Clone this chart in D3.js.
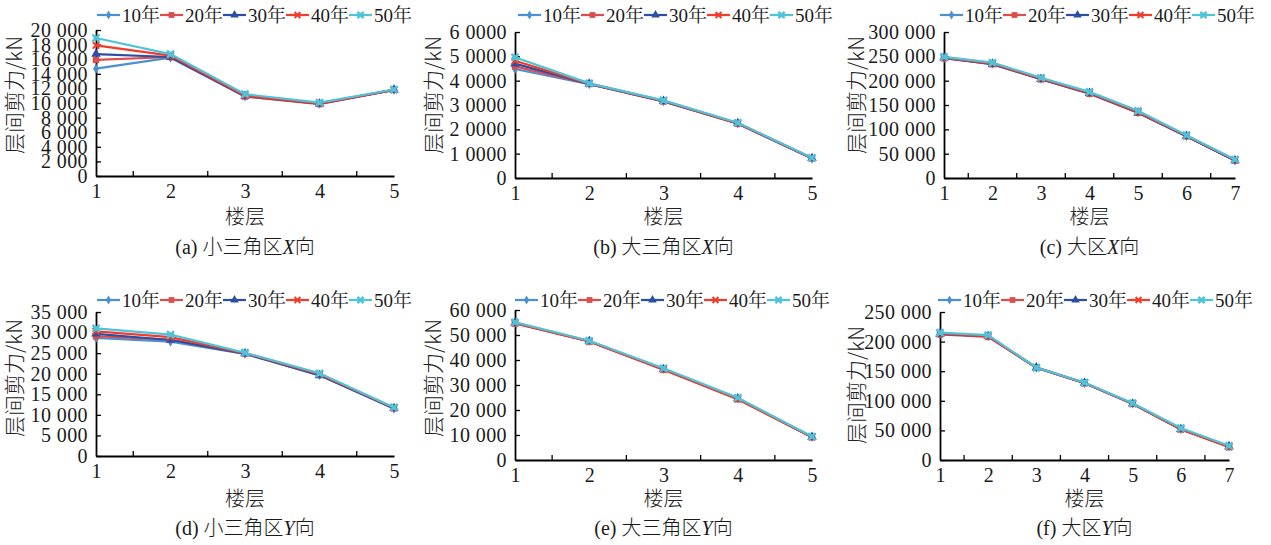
<!DOCTYPE html>
<html><head><meta charset="utf-8">
<script src="https://cdn.jsdelivr.net/npm/d3@7"></script>
<style>body{margin:0;background:#fff}svg{display:block}</style>
</head><body><svg id="c" width="1271" height="545"></svg>
<script>
const seriesNames = ["10年","20年","30年","40年","50年"];
const seriesColors = ["#4a90d2","#dc4e4c","#2b4fa4","#f23c2a","#4fc3d9"];
const seriesMarkers = ["diamond","square","triangle","cross","star"];

const floors5 = [1,2,3,4,5];
const floors7 = [1,2,3,4,5,6,7];

// (a) 小三角区X向
const aTicks = [0,2000,4000,6000,8000,10000,12000,14000,16000,18000,20000];
const aLabels = ["0","2 000","4 000","6 000","8 000","10 000","12 000","14 000","16 000","18 000","20 000"];
const a10 = [14700,16200,10900,9900,11800];
const a20 = [15900,16300,10900,9850,11800];
const a30 = [16700,16300,10950,9900,11800];
const a40 = [17900,16500,11000,9950,11800];
const a50 = [18900,16700,11200,10050,11850];

// (b) 大三角区X向
const bTicks = [0,10000,20000,30000,40000,50000,60000];
const bLabels = ["0","1 0000","2 0000","3 0000","4 0000","5 0000","6 0000"];
const b10 = [44800,38600,31500,22400,8000];
const b20 = [45900,38700,31500,22300,8100];
const b30 = [47000,38700,31600,22500,8100];
const b40 = [48200,38800,31700,22500,8200];
const b50 = [49600,38900,31900,22700,8300];

// (c) 大区X向
const cTicks = [0,50000,100000,150000,200000,250000,300000];
const cLabels = ["0","50 000","100 000","150 000","200 000","250 000","300 000"];
const c10 = [247000,235000,204000,175000,135000,86000,36000];
const c20 = [246000,234000,203000,173000,134000,86000,36000];
const c30 = [247000,234000,203000,174000,134000,86000,36000];
const c40 = [248000,235000,204000,175000,135000,87000,37000];
const c50 = [249000,237000,206000,177000,138000,88000,38000];

// (d) 小三角区Y向
const dTicks = [0,5000,10000,15000,20000,25000,30000,35000];
const dLabels = ["0","5 000","10 000","15 000","20 000","25 000","30 000","35 000"];
const d10 = [28700,27800,24800,19700,11500];
const d20 = [29100,28300,24900,19800,11600];
const d30 = [29700,28200,24900,19600,11600];
const d40 = [30300,28900,25000,19900,11700];
const d50 = [31000,29500,25100,20100,11800];

// (e) 大三角区Y向
const eTicks = [0,10000,20000,30000,40000,50000,60000];
const eLabels = ["0","10 000","20 000","30 000","40 000","50 000","60 000"];
const e10 = [55000,47600,36400,24700,9200];
const e20 = [54600,47400,36100,24300,9100];
const e30 = [54800,47500,36300,24600,9200];
const e40 = [54700,47400,36200,24400,9200];
const e50 = [55100,47700,36700,24900,9400];

// (f) 大区Y向
const fTicks = [0,50000,100000,150000,200000,250000];
const fLabels = ["0","50 000","100 000","150 000","200 000","250 000"];
const f10 = [213000,209000,156000,130000,95000,52000,23000];
const f20 = [212000,208000,156000,130000,95000,52000,22000];
const f30 = [213000,209000,156000,130000,95000,52000,23000];
const f40 = [214000,209000,156000,130000,95000,52000,22000];
const f50 = [215000,211000,156000,131000,96000,54000,24000];

const panels = [
  {tag:"(a)", name:"小三角区", dir:"X", floors:floors5, ticks:aTicks, labels:aLabels, data:[a10,a20,a30,a40,a50],
   x0:96, x1:394, yTop:30, yBot:176, legX:97, legY:15, titleX:13, titleY:95, xtY:217, capY:247},
  {tag:"(b)", name:"大三角区", dir:"X", floors:floors5, ticks:bTicks, labels:bLabels, data:[b10,b20,b30,b40,b50],
   x0:515, x1:812, yTop:32, yBot:178, legX:518, legY:15, titleX:432, titleY:95, xtY:217, capY:247},
  {tag:"(c)", name:"大区", dir:"X", floors:floors7, ticks:cTicks, labels:cLabels, data:[c10,c20,c30,c40,c50],
   x0:944, x1:1235, yTop:32, yBot:178, legX:940, legY:15, titleX:855, titleY:95, xtY:217, capY:247},
  {tag:"(d)", name:"小三角区", dir:"Y", floors:floors5, ticks:dTicks, labels:dLabels, data:[d10,d20,d30,d40,d50],
   x0:96, x1:394, yTop:312, yBot:456, legX:97, legY:300, titleX:13, titleY:378, xtY:499, capY:528},
  {tag:"(e)", name:"大三角区", dir:"Y", floors:floors5, ticks:eTicks, labels:eLabels, data:[e10,e20,e30,e40,e50],
   x0:515, x1:812, yTop:310, yBot:460, legX:515, legY:300, titleX:432, titleY:378, xtY:499, capY:528},
  {tag:"(f)", name:"大区", dir:"Y", floors:floors7, ticks:fTicks, labels:fLabels, data:[f10,f20,f30,f40,f50],
   x0:940, x1:1229, yTop:312, yBot:460, legX:938, legY:300, titleX:855, titleY:385, xtY:499, capY:528}
];

const svg = d3.select("#c");
svg.append("rect").attr("width",1271).attr("height",545).attr("fill","#fff");
const serif = "'Liberation Serif','Times New Roman','Noto Serif CJK SC','Noto Sans CJK SC',serif";
const cjk = "'Noto Sans CJK SC','Noto Sans',sans-serif";

function marker(g, type, x, y, color, s){
  s = s || 1;
  if(type==="diamond"){
    g.append("path").attr("d",d3.symbol(d3.symbolDiamond, 30*s)()).attr("transform",`translate(${x},${y})`).attr("fill",color);
  } else if(type==="square"){
    g.append("path").attr("d",d3.symbol(d3.symbolSquare, 42*s)()).attr("transform",`translate(${x},${y})`).attr("fill",color);
  } else if(type==="triangle"){
    g.append("path").attr("d",d3.symbol(d3.symbolTriangle, 40*s)()).attr("transform",`translate(${x},${y})`).attr("fill",color);
  } else if(type==="cross"){
    g.append("path").attr("d",d3.symbol(d3.symbolX, 30*s)()).attr("transform",`translate(${x},${y})`).attr("fill","none").attr("stroke",color).attr("stroke-width",2);
  } else {
    g.append("path").attr("d",d3.symbol(d3.symbolX, 34*s)()).attr("transform",`translate(${x},${y})`).attr("fill","none").attr("stroke",color).attr("stroke-width",2.4);
    g.append("path").attr("d",d3.symbol(d3.symbolSquare, 22*s)()).attr("transform",`translate(${x},${y})`).attr("fill",color);
  }
}

panels.forEach(p => {
  const g = svg.append("g");
  const x = d3.scaleLinear().domain([p.floors[0], p.floors[p.floors.length-1]]).range([p.x0, p.x1]);
  const y = d3.scaleLinear().domain([0, p.ticks[p.ticks.length-1]]).range([p.yBot, p.yTop]);

  // y axis
  const yAxis = d3.axisLeft(y).tickValues(p.ticks).tickFormat((d,i)=>p.labels[i]).tickSizeInner(-5).tickSizeOuter(0).tickPadding(8);
  const ya = g.append("g").attr("transform",`translate(${p.x0},0)`).call(yAxis);
  ya.select(".domain").attr("stroke","#000").attr("stroke-width",1.8);
  ya.selectAll(".tick line").attr("stroke","#000").attr("stroke-width",1.3);
  ya.selectAll(".tick text").attr("font-family",serif).attr("font-size",20).attr("letter-spacing",0.4).attr("fill","#1a1a1a");

  // x axis: labels at floors, inner ticks at midpoints
  const xAxis = d3.axisBottom(x).tickValues(p.floors).tickFormat(d3.format("d")).tickSize(0).tickPadding(8);
  const xa = g.append("g").attr("transform",`translate(0,${p.yBot})`).call(xAxis);
  xa.select(".domain").attr("stroke","#000").attr("stroke-width",1.8);
  xa.selectAll(".tick text").attr("font-family",serif).attr("font-size",20).attr("fill","#1a1a1a");
  const mids = p.floors.slice(0,-1).map(f=>f+0.5);
  g.selectAll(null).data(mids).enter().append("line")
    .attr("x1",d=>x(d)).attr("x2",d=>x(d)).attr("y1",p.yBot).attr("y2",p.yBot-5)
    .attr("stroke","#000").attr("stroke-width",1.3);

  // lines
  const line = d3.line().x((d,i)=>x(p.floors[i])).y(d=>y(d));
  p.data.forEach((vals, si) => {
    g.append("path").datum(vals).attr("d",line).attr("fill","none")
      .attr("stroke",seriesColors[si]).attr("stroke-width",2.2);
    vals.forEach((v,i)=>marker(g, seriesMarkers[si], x(p.floors[i]), y(v), seriesColors[si]));
  });

  // legend
  seriesNames.forEach((n, si) => {
    const lx = p.legX + si*63;
    g.append("line").attr("x1",lx).attr("x2",lx+23).attr("y1",p.legY).attr("y2",p.legY)
      .attr("stroke",seriesColors[si]).attr("stroke-width",2.2);
    marker(g, seriesMarkers[si], lx+11.5, p.legY, seriesColors[si], 0.8);
    g.append("text").attr("x",lx+25).attr("y",p.legY+7).attr("font-family",serif)
      .attr("font-size",19).attr("fill","#1a1a1a").text(n);
  });

  // y title
  g.append("text").attr("transform",`translate(${p.titleX+9},${p.titleY}) rotate(-90)`)
    .attr("text-anchor","middle").attr("font-family",cjk).attr("font-size",21).attr("font-weight",300).attr("fill","#222")
    .text("层间剪力/kN");

  // x title
  const cx = (p.x0+p.x1)/2;
  g.append("text").attr("x",cx).attr("y",p.xtY+7).attr("text-anchor","middle")
    .attr("font-family",cjk).attr("font-size",20).attr("font-weight",300).attr("fill","#222").text("楼层");

  // caption
  const cap = g.append("text").attr("x",cx).attr("y",p.capY+7).attr("text-anchor","middle")
    .attr("font-family",serif).attr("font-size",20).attr("fill","#1a1a1a");
  cap.append("tspan").text(p.tag+" ");
  cap.append("tspan").attr("font-family",cjk).attr("font-weight",300).text(p.name);
  cap.append("tspan").attr("font-style","italic").text(p.dir);
  cap.append("tspan").attr("font-family",cjk).attr("font-weight",300).text("向");
});
</script></body></html>
